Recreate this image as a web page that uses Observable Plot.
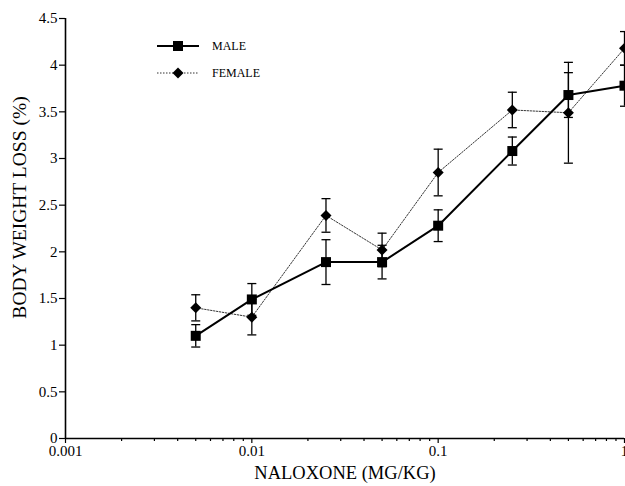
<!DOCTYPE html>
<html>
<head>
<meta charset="utf-8">
<script src="https://cdn.jsdelivr.net/npm/d3@7"></script>
<script src="https://cdn.jsdelivr.net/npm/@observablehq/plot@0.6"></script>
<style>
  html, body { margin: 0; padding: 0; background: #fff; }
  #wrap { position: relative; width: 625px; height: 486px; overflow: hidden; }
  #wrap svg text { font-family: "Liberation Serif", serif !important; }
  #wrap g[aria-label$="tick label"] text { font-size: 15px !important; }
  #legend { position: absolute; left: 0; top: 0; }
</style>
</head>
<body>
<div id="wrap"></div>
<script>
// ---- data ----
const doses = [0.005, 0.01, 0.025, 0.05, 0.1, 0.25, 0.5, 1];
const maleMean = [1.10, 1.49, 1.89, 1.89, 2.28, 3.08, 3.68, 3.78];
const maleErr = [0.12, 0.17, 0.24, 0.18, 0.17, 0.15, 0.24, 0.22];
const femaleMean = [1.40, 1.30, 2.39, 2.02, 2.85, 3.52, 3.49, 4.18];
const femaleErr = [0.14, 0.19, 0.18, 0.18, 0.25, 0.19, 0.54, 0.18];
const xMajorTicks = [0.001, 0.01, 0.1, 1];
const xMinorTicks = [0.002,0.003,0.004,0.005,0.006,0.007,0.008,0.009,
                     0.02,0.03,0.04,0.05,0.06,0.07,0.08,0.09,
                     0.2,0.3,0.4,0.5,0.6,0.7,0.8,0.9];
const yTicks = [0, 0.5, 1, 1.5, 2, 2.5, 3, 3.5, 4, 4.5];
const seriesNames = ["MALE", "FEMALE"];
const xLabel = "NALOXONE (MG/KG)";
const yLabel = "BODY WEIGHT LOSS (%)";

const serif = "Liberation Serif";
const male = doses.map((d, i) => ({dose: d, mean: maleMean[i], lo: maleMean[i] - maleErr[i], hi: maleMean[i] + maleErr[i]}));
const female = doses.map((d, i) => ({dose: d, mean: femaleMean[i], lo: femaleMean[i] - femaleErr[i], hi: femaleMean[i] + femaleErr[i]}));

// custom symbols
const capSymbol = {draw(ctx) { ctx.moveTo(-4.5, 0); ctx.lineTo(4.5, 0); }};
const squareSymbol = {draw(ctx) { ctx.moveTo(-5, -5); ctx.lineTo(5, -5); ctx.lineTo(5, 5); ctx.lineTo(-5, 5); ctx.closePath(); }};
const diamondSymbol = {draw(ctx) { ctx.moveTo(0, -5.5); ctx.lineTo(5.5, 0); ctx.lineTo(0, 5.5); ctx.lineTo(-5.5, 0); ctx.closePath(); }};

const plot = Plot.plot({
  width: 625,
  height: 486,
  marginLeft: 65,
  marginRight: 1,
  marginTop: 18,
  marginBottom: 48,
  style: {fontFamily: serif, fontSize: "15px", color: "black", background: "white"},
  x: {type: "log", domain: [0.001, 1], label: null},
  y: {domain: [0, 4.5], label: null},
  marks: [
    Plot.axisX({ticks: xMinorTicks, tickSize: 3, tickFormat: () => "", strokeWidth: 1.2}),
    Plot.axisX({ticks: xMajorTicks, tickSize: 5, tickPadding: 2, tickFormat: d => String(d), strokeWidth: 1.2, fontFamily: serif, fontSize: 15}),
    Plot.axisY({ticks: yTicks, tickSize: 6, tickPadding: 2, tickFormat: d => String(d), strokeWidth: 1.2, fontFamily: serif, fontSize: 15}),
    Plot.ruleX([0.001], {y1: 0, y2: 4.5, stroke: "black", strokeWidth: 1.6}),
    Plot.ruleY([0], {stroke: "black", strokeWidth: 1.6}),
    // error bars
    Plot.ruleX(male, {x: "dose", y1: "lo", y2: "hi", stroke: "black", strokeWidth: 1.3}),
    Plot.ruleX(female, {x: "dose", y1: "lo", y2: "hi", stroke: "black", strokeWidth: 1.3}),
    Plot.dot(male, {x: "dose", y: "lo", symbol: capSymbol, stroke: "black", fill: "none", strokeWidth: 1.3}),
    Plot.dot(male, {x: "dose", y: "hi", symbol: capSymbol, stroke: "black", fill: "none", strokeWidth: 1.3}),
    Plot.dot(female, {x: "dose", y: "lo", symbol: capSymbol, stroke: "black", fill: "none", strokeWidth: 1.3}),
    Plot.dot(female, {x: "dose", y: "hi", symbol: capSymbol, stroke: "black", fill: "none", strokeWidth: 1.3}),
    // lines
    Plot.line(female, {x: "dose", y: "mean", stroke: "#333", strokeWidth: 1, strokeDasharray: "1.5,1.5"}),
    Plot.line(male, {x: "dose", y: "mean", stroke: "black", strokeWidth: 2}),
    // markers
    Plot.dot(female, {x: "dose", y: "mean", symbol: diamondSymbol, fill: "black", stroke: "none"}),
    Plot.dot(male, {x: "dose", y: "mean", symbol: squareSymbol, fill: "black", stroke: "none"}),
    // axis titles
    Plot.text([xLabel], {frameAnchor: "bottom", textAnchor: "middle", dy: 40, fontSize: 18.5, fontFamily: serif, fill: "black"}),
    Plot.text([yLabel], {frameAnchor: "left", textAnchor: "middle", dx: -46, dy: -21, rotate: -90, fontSize: 19.5, fontFamily: serif, fill: "black"})
  ]
});

const wrap = document.getElementById("wrap");
wrap.appendChild(plot);

// legend overlay
const leg = d3.select(wrap).append("svg").attr("id", "legend")
  .attr("width", 625).attr("height", 486)
  .style("font-family", serif);
const rows = [
  {name: seriesNames[0], y: 46, dash: null, sw: 2, stroke: "black", sym: "square"},
  {name: seriesNames[1], y: 73, dash: "1.5,1.5", sw: 1, stroke: "#333", sym: "diamond"}
];
rows.forEach(r => {
  leg.append("line").attr("x1", 157).attr("x2", 199).attr("y1", r.y).attr("y2", r.y)
    .attr("stroke", r.stroke).attr("stroke-width", r.sw).attr("stroke-dasharray", r.dash);
  if (r.sym === "square") {
    leg.append("rect").attr("x", 173).attr("y", r.y - 5).attr("width", 10).attr("height", 10).attr("fill", "black");
  } else {
    leg.append("path").attr("d", `M178,${r.y - 5.5}L183.5,${r.y}L178,${r.y + 5.5}L172.5,${r.y}Z`).attr("fill", "black");
  }
  leg.append("text").attr("x", 212).attr("y", r.y).attr("dy", "0.35em").attr("font-size", 12).text(r.name);
});
</script>
</body>
</html>
